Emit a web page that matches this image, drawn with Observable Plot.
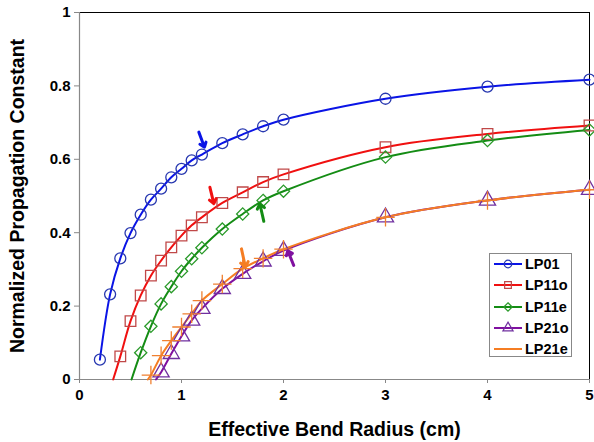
<!DOCTYPE html>
<html><head><meta charset="utf-8">
<script src="https://cdn.jsdelivr.net/npm/d3@7"></script>
<script src="https://cdn.jsdelivr.net/npm/@observablehq/plot@0.6"></script>
<style>
body{margin:0;background:#fff;font-family:"Liberation Sans",Arial,sans-serif;}
#wrap{position:relative;width:594px;height:442px;}
#legend{position:absolute;left:489px;top:253px;width:83px;height:104px;border:1px solid #888;background:#fff;box-sizing:border-box;}
.row{position:absolute;left:3px;height:20px;display:flex;align-items:center;}
.row span{font:bold 14.5px "Liberation Sans",Arial,sans-serif;margin-left:2px;color:#000;}
</style></head>
<body><div id="wrap"><div id="chart"></div><div id="legend"></div></div>
<script>
const series = ["LP01","LP11o","LP11e","LP21o","LP21e"];
const lp01X = [0.2,0.3,0.4,0.5,0.6,0.7,0.8,0.9,1.0,1.1,1.2,1.4,1.6,1.8,2,3,4,5];
const lp01Y = [0.054,0.232,0.33,0.399,0.449,0.49,0.52,0.551,0.574,0.597,0.613,0.644,0.668,0.69,0.708,0.765,0.798,0.817];
const lp11oX = [0.4,0.5,0.6,0.7,0.8,0.9,1.0,1.1,1.2,1.4,1.6,1.8,2,3,4,5];
const lp11oY = [0.063,0.159,0.229,0.283,0.324,0.36,0.392,0.42,0.442,0.481,0.51,0.538,0.559,0.633,0.669,0.692];
const lp11eX = [0.6,0.7,0.8,0.9,1.0,1.1,1.2,1.4,1.6,1.8,2,3,4,5];
const lp11eY = [0.073,0.145,0.206,0.253,0.295,0.329,0.359,0.41,0.451,0.488,0.513,0.606,0.651,0.68];
const lp21oX = [0.8,0.9,1.0,1.1,1.2,1.4,1.6,1.8,2,3,4,5];
const lp21oY = [0.02,0.07,0.118,0.161,0.193,0.247,0.288,0.322,0.351,0.442,0.488,0.517];
const lp21eX = [0.7,0.8,0.9,1.0,1.1,1.2,1.4,1.6,1.8,2,3,4,5];
const lp21eY = [0.012,0.065,0.106,0.143,0.179,0.215,0.26,0.302,0.33,0.355,0.442,0.488,0.517];
// where each fitted curve meets zero (LP01 curve starts at its first point)
const zeroCross = [null,0.33,0.51,0.75,0.67];
// arrows marking points (tail -> head), in series order
const arrowX1 = [1.17,1.278,1.807,2.10,1.588];
const arrowY1 = [0.674,0.524,0.431,0.311,0.356];
const arrowX2 = [1.225,1.317,1.768,2.042,1.627];
const arrowY2 = [0.633,0.479,0.479,0.351,0.306];
const xTicks = [0,1,2,3,4,5];
const yTicks = [0,0.2,0.4,0.6,0.8,1];
const xTickLabels = ["0","1","2","3","4","5"];
const yTickLabels = ["0","0.2","0.4","0.6","0.8","1"];

const lineColors = ["#0a14e6","#f01010","#148c14","#8010a0","#f57d23"];
const markColors = ["#2838b0","#c04848","#2a9a2a","#7030a0","#f08030"];
const symbols = ["circle","square","diamond2","triangle","plus"];

const xs = [lp01X,lp11oX,lp11eX,lp21oX,lp21eX];
const ys = [lp01Y,lp11oY,lp11eY,lp21oY,lp21eY];
const pts = [], lines = [];
series.forEach((s,i)=>{
  if (zeroCross[i] != null) lines.push({s, x: zeroCross[i], y: 0});
  xs[i].forEach((x,j)=>{ pts.push({s, x, y: ys[i][j]}); lines.push({s, x, y: ys[i][j]}); });
});
const arrows = series.map((s,i)=>({s, x1:arrowX1[i], y1:arrowY1[i], x2:arrowX2[i], y2:arrowY2[i]}));

const font = "Liberation Sans, Arial, sans-serif";
const chart = Plot.plot({
  width: 594, height: 442,
  marginLeft: 79, marginRight: 5, marginTop: 12, marginBottom: 63,
  style: {fontFamily: font, background: "#fff"},
  x: {domain: [0,5]},
  y: {domain: [0,1]},
  marks: [
    Plot.axisX({ticks: xTicks, tickFormat: (d,i)=>xTickLabels[i], tickSize: 4, tickPadding: 6, stroke: "#888", fill: "#000", fontSize: 15, fontWeight: "bold", label: null}),
    Plot.axisY({ticks: yTicks, tickFormat: (d,i)=>yTickLabels[i], tickSize: 5, tickPadding: 4, stroke: "#888", fill: "#000", fontSize: 15, fontWeight: "bold", label: null}),
    Plot.ruleY([1], {stroke: "#000", strokeWidth: 1}),
    Plot.ruleX([5], {stroke: "#000", strokeWidth: 1}),
    Plot.ruleX([0], {stroke: "#888", strokeWidth: 1.2}),
    Plot.ruleY([0], {stroke: "#888", strokeWidth: 1.2}),
    ...series.map((s,i)=>Plot.line(lines.filter(d=>d.s===s), {x:"x", y:"y", stroke: lineColors[i], strokeWidth: 2, curve: "catmull-rom"})),
    ...series.map((s,i)=>Plot.dot(pts.filter(d=>d.s===s), {x:"x", y:"y", symbol: symbols[i], stroke: markColors[i], fill: "none", strokeWidth: 1.3, r: i===0?5.5:(i===2?5.5:6)})),
    ...series.map((s,i)=>Plot.arrow([arrows[i]], {x1:"x1", y1:"y1", x2:"x2", y2:"y2", stroke: lineColors[i], strokeWidth: 3, headLength: 8, headAngle: 75})),
    Plot.text(["Effective Bend Radius (cm)"], {frameAnchor: "bottom", dy: 56, fontSize: 19.5, fontWeight: "bold", fill: "#000"}),
    Plot.text(["Normalized Propagation Constant"], {frameAnchor: "left", textAnchor: "middle", dx: -62, rotate: -90, fontSize: 19.5, fontWeight: "bold", fill: "#000"})
  ]
});
document.getElementById("chart").appendChild(chart);

// legend
const leg = document.getElementById("legend");
const types = [d3.symbolCircle, d3.symbolSquare, d3.symbolDiamond2, d3.symbolTriangle, d3.symbolPlus];
series.forEach((s,i)=>{
  const row = document.createElement("div");
  row.className = "row";
  row.style.top = (i*21.3) + "px";
  const svg = d3.create("svg").attr("width", 30).attr("height", 20);
  svg.append("line").attr("x1",1).attr("x2",29).attr("y1",10).attr("y2",10).attr("stroke", lineColors[i]).attr("stroke-width", 2);
  svg.append("path").attr("d", d3.symbol(types[i], 45)()).attr("transform","translate(15,10)")
     .attr("fill", i===4 ? lineColors[i] : "none").attr("stroke", i===4 ? "none" : markColors[i]).attr("stroke-width", 1.2);
  row.appendChild(svg.node());
  const t = document.createElement("span"); t.textContent = s; row.appendChild(t);
  leg.appendChild(row);
});
</script></body></html>
